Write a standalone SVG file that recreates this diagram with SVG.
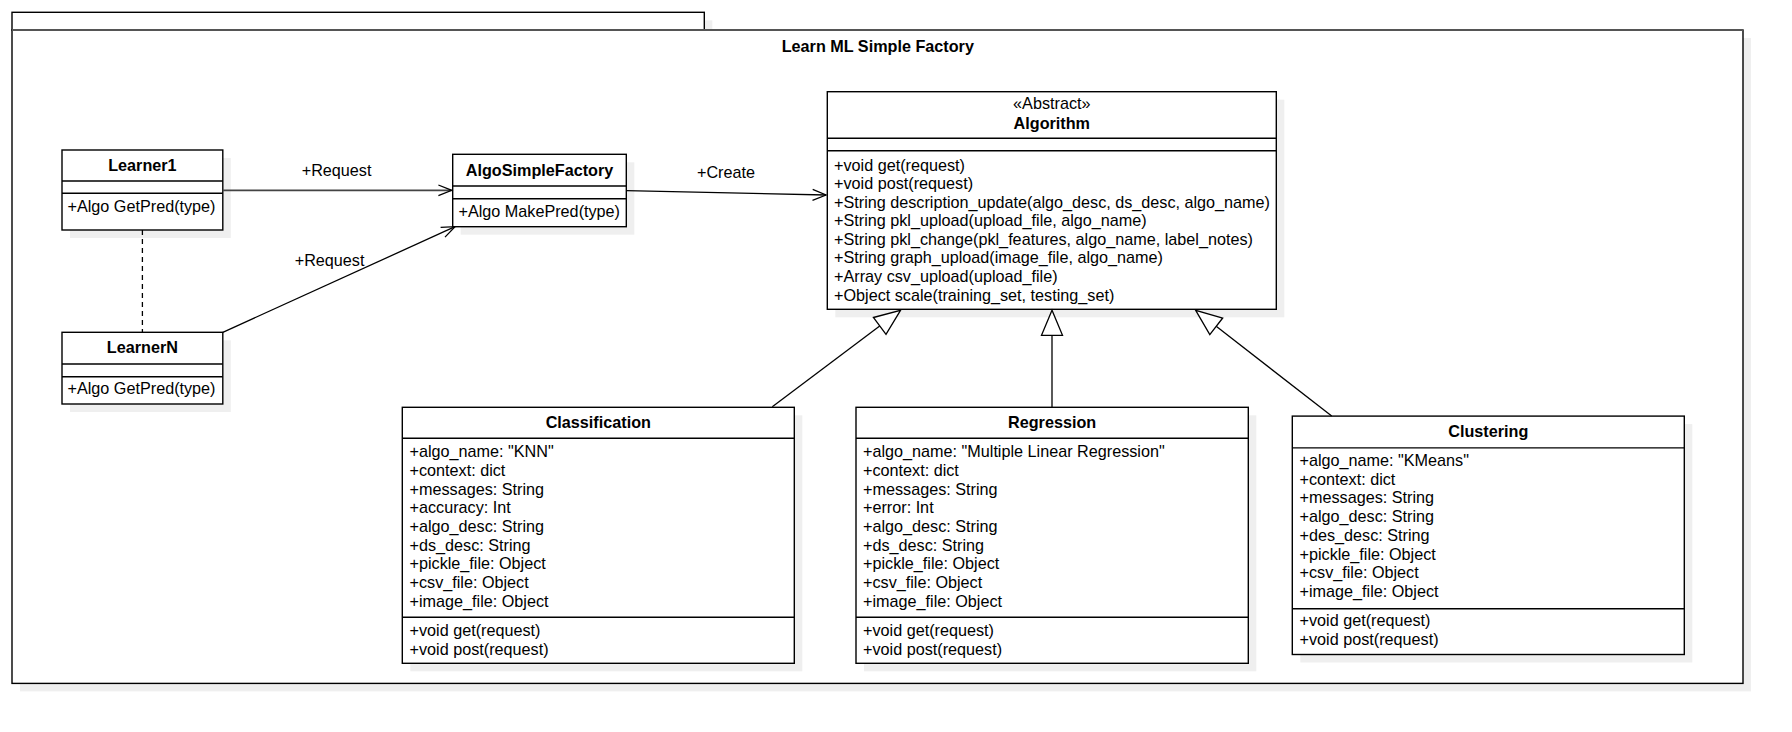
<svg xmlns="http://www.w3.org/2000/svg" width="1792" height="732" viewBox="0 0 1792 732">
<style>
text{font-family:"Liberation Sans",Arial,Helvetica,sans-serif;font-size:16.2px;fill:#000}
.b{font-weight:bold}
.c{text-anchor:middle}
.box{fill:#fff;stroke:#000;stroke-width:1.4}
.sh{fill:#efefef;stroke:none}
.sep{stroke:#000;stroke-width:1.4;fill:none}
.ln{stroke:#000;stroke-width:1.3;fill:none}
.tri{fill:#fff;stroke:#000;stroke-width:1.3}
</style>
<rect width="1792" height="732" fill="#fff"/>
<g id="frame">
<rect class="sh" x="20" y="20.3" width="692.3" height="17.7"/>
<rect class="sh" x="20" y="38" width="1731" height="653.4"/>
<rect class="box" x="12" y="12.3" width="692.3" height="17.7"/>
<rect class="box" x="12" y="30" width="1731" height="653.4"/>
<line x1="12" y1="30" x2="1743" y2="30" stroke="#555" stroke-width="2"/>
<text class="b c" x="877.8" y="52.4">Learn ML Simple Factory</text>
</g>
<g id="learner1">
<rect class="sh" x="70" y="158" width="160.8" height="80"/>
<rect class="box" x="62" y="150" width="160.8" height="80"/>
<line class="sep" x1="62" y1="181" x2="222.8" y2="181"/>
<line class="sep" x1="62" y1="193.3" x2="222.8" y2="193.3"/>
<text class="b c" x="142.4" y="170.5">Learner1</text>
<text x="67.5" y="212.2">+Algo GetPred(type)</text>
</g>
<g id="learnerN">
<rect class="sh" x="70" y="340.3" width="160.8" height="71.7"/>
<rect class="box" x="62" y="332.3" width="160.8" height="71.7"/>
<line class="sep" x1="62" y1="364" x2="222.8" y2="364"/>
<line class="sep" x1="62" y1="376.7" x2="222.8" y2="376.7"/>
<text class="b c" x="142.4" y="352.8">LearnerN</text>
<text x="67.5" y="393.8">+Algo GetPred(type)</text>
</g>
<g id="factory">
<rect class="sh" x="460.7" y="162.3" width="173.6" height="72.4"/>
<rect class="box" x="452.7" y="154.3" width="173.6" height="72.4"/>
<line class="sep" x1="452.7" y1="186" x2="626.3" y2="186"/>
<line class="sep" x1="452.7" y1="198.7" x2="626.3" y2="198.7"/>
<text class="b c" x="539.5" y="176.2">AlgoSimpleFactory</text>
<text x="458.5" y="217.2">+Algo MakePred(type)</text>
</g>
<g id="algorithm">
<rect class="sh" x="835.3" y="99.7" width="449" height="217.6"/>
<rect class="box" x="827.3" y="91.7" width="449" height="217.6"/>
<line class="sep" x1="827.3" y1="138.3" x2="1276.3" y2="138.3"/>
<line class="sep" x1="827.3" y1="150.7" x2="1276.3" y2="150.7"/>
<text class="c" x="1051.8" y="108.8">«Abstract»</text>
<text class="b c" x="1051.8" y="128.8">Algorithm</text>
<text x="834" y="170.5">+void get(request)</text>
<text x="834" y="189.1">+void post(request)</text>
<text x="834" y="207.6">+String description_update(algo_desc, ds_desc, algo_name)</text>
<text x="834" y="226.2">+String pkl_upload(upload_file, algo_name)</text>
<text x="834" y="244.8">+String pkl_change(pkl_features, algo_name, label_notes)</text>
<text x="834" y="263.4">+String graph_upload(image_file, algo_name)</text>
<text x="834" y="281.9">+Array csv_upload(upload_file)</text>
<text x="834" y="300.5">+Object scale(training_set, testing_set)</text>
</g>
<g id="classification">
<rect class="sh" x="410.3" y="415.3" width="392" height="256"/>
<rect class="box" x="402.3" y="407.3" width="392" height="256"/>
<line class="sep" x1="402.3" y1="438.3" x2="794.3" y2="438.3"/>
<line class="sep" x1="402.3" y1="617.3" x2="794.3" y2="617.3"/>
<text class="b c" x="598.3" y="427.8">Classification</text>
<text x="409.5" y="457.2">+algo_name: "KNN"</text>
<text x="409.5" y="475.9">+context: dict</text>
<text x="409.5" y="494.5">+messages: String</text>
<text x="409.5" y="513.2">+accuracy: Int</text>
<text x="409.5" y="531.9">+algo_desc: String</text>
<text x="409.5" y="550.5">+ds_desc: String</text>
<text x="409.5" y="569.2">+pickle_file: Object</text>
<text x="409.5" y="587.9">+csv_file: Object</text>
<text x="409.5" y="606.6">+image_file: Object</text>
<text x="409.5" y="636.2">+void get(request)</text>
<text x="409.5" y="654.8">+void post(request)</text>
</g>
<g id="regression">
<rect class="sh" x="864" y="415.3" width="392.3" height="256"/>
<rect class="box" x="856" y="407.3" width="392.3" height="256"/>
<line class="sep" x1="856" y1="438.3" x2="1248.3" y2="438.3"/>
<line class="sep" x1="856" y1="617.3" x2="1248.3" y2="617.3"/>
<text class="b c" x="1052.1" y="427.8">Regression</text>
<text x="863" y="457.2">+algo_name: "Multiple Linear Regression"</text>
<text x="863" y="475.9">+context: dict</text>
<text x="863" y="494.5">+messages: String</text>
<text x="863" y="513.2">+error: Int</text>
<text x="863" y="531.9">+algo_desc: String</text>
<text x="863" y="550.5">+ds_desc: String</text>
<text x="863" y="569.2">+pickle_file: Object</text>
<text x="863" y="587.9">+csv_file: Object</text>
<text x="863" y="606.6">+image_file: Object</text>
<text x="863" y="636.2">+void get(request)</text>
<text x="863" y="654.8">+void post(request)</text>
</g>
<g id="clustering">
<rect class="sh" x="1300.3" y="424.1" width="392" height="238.4"/>
<rect class="box" x="1292.3" y="416.1" width="392" height="238.4"/>
<line class="sep" x1="1292.3" y1="447.9" x2="1684.3" y2="447.9"/>
<line class="sep" x1="1292.3" y1="608.7" x2="1684.3" y2="608.7"/>
<text class="b c" x="1488.3" y="436.5">Clustering</text>
<text x="1299.5" y="466">+algo_name: "KMeans"</text>
<text x="1299.5" y="484.7">+context: dict</text>
<text x="1299.5" y="503.4">+messages: String</text>
<text x="1299.5" y="522.1">+algo_desc: String</text>
<text x="1299.5" y="540.8">+des_desc: String</text>
<text x="1299.5" y="559.5">+pickle_file: Object</text>
<text x="1299.5" y="578.2">+csv_file: Object</text>
<text x="1299.5" y="596.9">+image_file: Object</text>
<text x="1299.5" y="626.3">+void get(request)</text>
<text x="1299.5" y="644.8">+void post(request)</text>
</g>
<g id="connectors">
<line class="ln" x1="142.4" y1="230" x2="142.4" y2="332.3" stroke-dasharray="5 4"/>
<line x1="222.8" y1="190.3" x2="451.7" y2="190.3" stroke="#444" stroke-width="1.8"/>
<polyline class="ln" points="438.4,185 451.7,190.3 438.4,195.6" stroke="#444" stroke-width="1.8"/>
<text class="c" x="336.6" y="176.2">+Request</text>
<line class="ln" x1="222.8" y1="332.3" x2="455" y2="226.7"/>
<polyline class="ln" points="440.6,227.4 455,226.7 445,237.1"/>
<text class="c" x="329.6" y="266.2">+Request</text>
<line class="ln" x1="626.3" y1="190.7" x2="826" y2="195"/>
<polyline class="ln" points="812.7,189.4 826,195 812.5,200.4"/>
<text class="c" x="726" y="177.8">+Create</text>
<line class="ln" x1="772.3" y1="406.7" x2="879.7" y2="325.9"/>
<polygon class="tri" points="900.5,310.3 886,334.3 873.4,317.5"/>
<line class="ln" x1="1052" y1="335.3" x2="1052" y2="407.3"/>
<polygon class="tri" points="1052,310.3 1041.5,335.3 1062.5,335.3"/>
<line class="ln" x1="1331.7" y1="416.1" x2="1216.2" y2="326.3"/>
<polygon class="tri" points="1195.7,310.3 1209.8,334.6 1222.7,318"/>
</g>
</svg>
